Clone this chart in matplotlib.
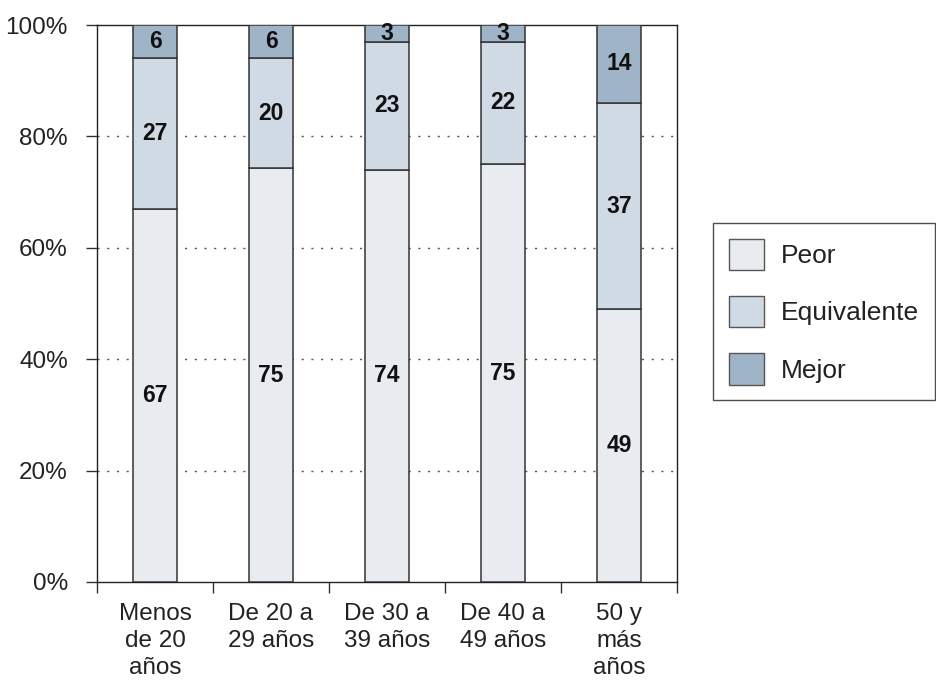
import matplotlib
matplotlib.use("Agg")
import matplotlib.pyplot as plt
import numpy as np
from matplotlib.patches import Patch

categories = ["Menos\nde 20\naños", "De 20 a\n29 años", "De 30 a\n39 años", "De 40 a\n49 años", "50 y\nmás\naños"]
peor = [67, 75, 74, 75, 49]
equivalente = [27, 20, 23, 22, 37]
mejor = [6, 6, 3, 3, 14]
series_names = ["Peor", "Equivalente", "Mejor"]
colors = ["#E8ECF0", "#D0DAE4", "#A0B4C8"]

plt.rcParams['font.family'] = ['Liberation Sans', 'DejaVu Sans']

fig = plt.figure(figsize=(9.36, 6.8), dpi=100)
ax = fig.add_axes([97/936, 1 - 582/680, (677-97)/936, (582-25)/680])

x = np.arange(len(categories))
series = [np.array(peor, float), np.array(equivalente, float), np.array(mejor, float)]
totals = sum(series)
bottom = np.zeros(len(categories))
width = 0.38
for vals, col, name in zip(series, colors, series_names):
    pct = vals / totals * 100
    ax.bar(x, pct, width, bottom=bottom, color=col, edgecolor="#333333", linewidth=1.1, zorder=3)
    for xi, b, p, v in zip(x, bottom, pct, vals):
        ax.text(xi, b + p / 2, f"{int(v)}", ha="center", va="center", fontsize=16.5,
                fontweight="bold", color="#111111", zorder=4)
    bottom = bottom + pct

ax.set_xlim(-0.5, len(categories) - 0.5)
ax.set_ylim(0, 100)
ax.set_yticks([0, 20, 40, 60, 80, 100])
ax.set_yticklabels(["0%", "20%", "40%", "60%", "80%", "100%"], fontsize=17.5, color="#222222")
for yv in [20, 40, 60, 80]:
    ax.axhline(yv, color="#555555", linestyle=(0, (1.5, 5.5)), linewidth=1.0, zorder=1)

ax.set_xticks(x)
ax.set_xticklabels(categories, fontsize=17.5, linespacing=1.3, color="#222222")
ax.tick_params(axis="x", which="major", length=0, pad=15)
ax.set_xticks(np.arange(-0.5, len(categories)), minor=True)
ax.tick_params(axis="x", which="minor", length=8, width=1, color="#333333")
ax.tick_params(axis="y", length=8, width=1, pad=13, color="#333333")

for s in ax.spines.values():
    s.set_color("#222222")
    s.set_linewidth(1.0)

handles = [Patch(facecolor=c, edgecolor="#555555", label=n) for c, n in zip(colors, series_names)]
leg = fig.legend(handles=handles, loc="upper left", bbox_to_anchor=(713/936, 1 - 223/680),
                 fontsize=19, frameon=True, fancybox=False, edgecolor="#222222",
                 handlelength=1.33, handleheight=1.45, labelspacing=0.98, borderpad=0.6,
                 handletextpad=0.65, borderaxespad=0)
for t in leg.get_texts():
    t.set_color("#222222")
leg.get_frame().set_linewidth(1.0)

fig.savefig("out.png", dpi=100)
